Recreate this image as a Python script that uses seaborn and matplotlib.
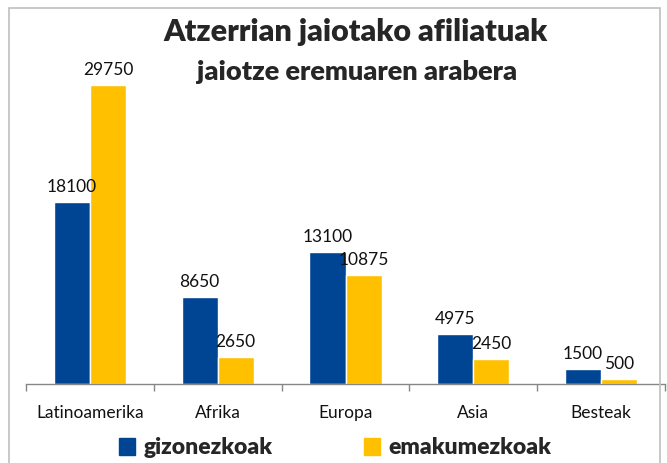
import matplotlib.pyplot as plt
import matplotlib.patches as mpatches
import pandas as pd
import seaborn as sns

# data
regions = ["Latinoamerika", "Afrika", "Europa", "Asia", "Besteak"]
men = [18100, 8650, 13100, 4975, 1500]
women = [29750, 2650, 10875, 2450, 500]
series = ["gizonezkoak", "emakumezkoak"]

df = pd.DataFrame({
    "region": regions * 2,
    "value": men + women,
    "sex": [series[0]] * len(regions) + [series[1]] * len(regions),
})

sns.set_theme(style="white")
plt.rcParams["font.family"] = ["Lato", "DejaVu Sans"]

fig = plt.figure(figsize=(6.67, 4.63), dpi=100)
ax = fig.add_axes([26 / 667, 1 - 384 / 463, 639 / 667, 352 / 463])

sns.barplot(
    data=df, x="region", y="value", hue="sex",
    palette=["#004494", "#FFC000"], width=0.565, gap=0,
    saturation=1, ax=ax, legend=False,
)

# value labels above bars
for cont in ax.containers:
    ax.bar_label(cont, fmt="%d", padding=5, fontsize=12.5, color="#111111")

ax.set_ylim(0, 35000)
ax.set_xlim(-0.5, len(regions) - 0.5)
ax.set_xlabel("")
ax.set_ylabel("")
ax.set_yticks([])
for side in ["top", "right", "left"]:
    ax.spines[side].set_visible(False)
ax.spines["bottom"].set_color("#868686")
ax.spines["bottom"].set_linewidth(1)

# ticks at category borders
ax.set_xticks([i - 0.5 for i in range(len(regions) + 1)], minor=True)
ax.tick_params(axis="x", which="minor", length=5, color="#868686", width=1, bottom=True)
ax.tick_params(axis="x", which="major", length=0, pad=15, labelsize=12.5, labelcolor="#111111")

# chart frame
fig.patches.append(mpatches.Rectangle(
    (9 / 667, -0.05), 651 / 667, 1.05 - 8 / 463,
    transform=fig.transFigure, fill=False, edgecolor="#BFBFBF", linewidth=1.2,
))

fig.text(356 / 667, 1 - 32 / 463, "Atzerrian jaiotako afiliatuak",
         ha="center", va="center", fontsize=22, fontweight="heavy")
fig.text(357 / 667, 1 - 72 / 463, "jaiotze eremuaren arabera",
         ha="center", va="center", fontsize=19.5, fontweight="heavy")

handles = [mpatches.Patch(color="#004494"), mpatches.Patch(color="#FFC000")]
fig.legend(handles, series, loc="center", bbox_to_anchor=(335 / 667, 1 - 448 / 463),
           ncol=2, frameon=False, prop={"weight": "heavy", "size": 16.5},
           handlelength=0.7, handleheight=0.7, handletextpad=0.35, columnspacing=4.0)

fig.savefig("out.png", dpi=100)
